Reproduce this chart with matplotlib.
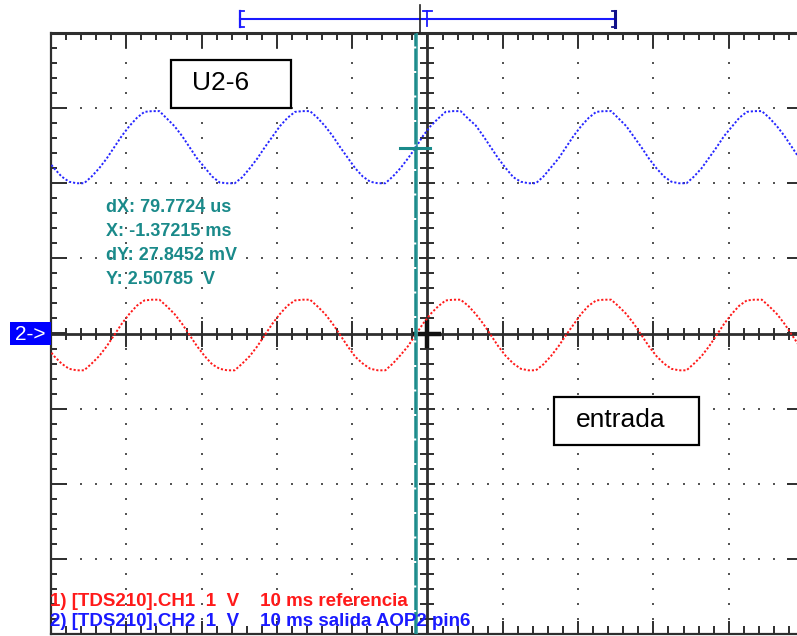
import numpy as np
import matplotlib
matplotlib.use('Agg')
import matplotlib.pyplot as plt
from matplotlib.patches import Rectangle
from matplotlib.lines import Line2D
from matplotlib.collections import LineCollection

W, H = 797, 636

# scope settings: 10 ms/div, 1 V/div, 10 x 8 divisions
t_first, t_step = -50.6, 1.0   # first sample instant and sample spacing (ms)

# CH2 "salida AOP2 pin6" readings (V), one per ms
ch2 = [2.33, 2.20, 2.09, 2.02, 2.00, 2.00, 2.09, 2.20, 2.33, 2.48, 2.63, 2.76, 2.87, 2.95, 2.96, 2.96, 2.86, 2.76, 2.63, 2.48,
       2.33, 2.21, 2.09, 2.01, 2.00, 2.00, 2.08, 2.20, 2.33, 2.48, 2.62, 2.76, 2.87, 2.95, 2.96, 2.96, 2.87, 2.76, 2.63, 2.48,
       2.34, 2.20, 2.09, 2.02, 2.00, 2.00, 2.09, 2.20, 2.33, 2.47, 2.63, 2.76, 2.86, 2.95, 2.96, 2.96, 2.86, 2.77, 2.63, 2.48,
       2.33, 2.20, 2.08, 2.02, 2.00, 2.00, 2.09, 2.21, 2.33, 2.48, 2.63, 2.76, 2.87, 2.95, 2.96, 2.96, 2.86, 2.76, 2.62, 2.48,
       2.33, 2.20, 2.09, 2.02, 2.00, 2.00, 2.09, 2.20, 2.34, 2.48, 2.63, 2.75, 2.87, 2.95, 2.96, 2.96, 2.87, 2.76, 2.63, 2.48,
       2.33, 2.20]

# CH1 "referencia" readings (V)
ch1 = [-0.17, -0.30, -0.40, -0.47, -0.49, -0.49, -0.40, -0.30, -0.17, -0.02, 0.13, 0.26, 0.37, 0.44, 0.45, 0.45, 0.36, 0.26, 0.13, -0.02,
       -0.17, -0.30, -0.41, -0.47, -0.49, -0.49, -0.40, -0.30, -0.17, -0.02, 0.13, 0.26, 0.37, 0.44, 0.45, 0.45, 0.36, 0.26, 0.13, -0.02,
       -0.17, -0.31, -0.40, -0.47, -0.49, -0.49, -0.40, -0.29, -0.17, -0.02, 0.13, 0.26, 0.36, 0.44, 0.45, 0.45, 0.37, 0.26, 0.13, -0.02,
       -0.17, -0.30, -0.40, -0.47, -0.49, -0.49, -0.41, -0.30, -0.17, -0.02, 0.12, 0.26, 0.37, 0.44, 0.45, 0.45, 0.36, 0.26, 0.13, -0.02,
       -0.17, -0.30, -0.40, -0.47, -0.49, -0.49, -0.40, -0.30, -0.17, -0.02, 0.13, 0.26, 0.37, 0.44, 0.45, 0.45, 0.36, 0.26, 0.13, -0.02,
       -0.17, -0.30]

t = t_first + t_step * np.arange(len(ch2))

cursor_t = -1.6      # vertical cursor (ms)
cursor_v = 2.47      # horizontal cursor mark (V)
readout = ['dX: 79.7724 us', 'X: -1.37215 ms', 'dY: 27.8452 mV', 'Y: 2.50785  V']
legend_1 = '1) [TDS210].CH1  1  V    10 ms referencia'
legend_2 = '2) [TDS210].CH2  1  V    10 ms salida AOP2 pin6'

BLUE = '#2626ff'
RED = '#ff1a1a'
TEAL = '#1a8a8a'
GRID = '#2e2e2e'


def fx(px):
    return px / W


def fy(py):
    return 1 - py / H


fig = plt.figure(figsize=(W / 100, H / 100), dpi=100)
left, right, top, bottom = 51, 804, 33, 634
ax = fig.add_axes([fx(left), fy(bottom), (right - left) / W, (bottom - top) / H])
ax.set_xlim(-50, 50)
ax.set_ylim(-4, 4)
ax.set_xticks([])
ax.set_yticks([])
for s in ax.spines.values():
    s.set_color(GRID)
    s.set_linewidth(1.6)
ax.spines['top'].set_linewidth(2.2)

# px -> data conversion
mx = 100 / (right - left)
my = 8 / (bottom - top)

# dotted graticule
dots_x, dots_y = [], []
for xv in range(-40, 50, 10):
    if xv == 0:
        continue
    yy = np.arange(-4, 4.001, 0.2)
    dots_x += [xv] * len(yy)
    dots_y += list(yy)
for yv in [-3, -2, -1, 1, 2, 3]:
    xx = np.arange(-50, 50.001, 2)
    dots_x += list(xx)
    dots_y += [yv] * len(xx)
ax.plot(dots_x, dots_y, 's', color='#555555', ms=1.5, mew=0, zorder=1)

segs = []
# frame ticks
for xv in np.arange(-48, 49, 2):
    major = abs(xv) % 10 == 0
    segs.append([(xv, 4), (xv, 4 - (15 if major else 7) * my)])
    segs.append([(xv, -4), (xv, -4 + (13 if major else 8) * my)])
for yv in np.arange(-3.8, 3.81, 0.2):
    major = abs(round(yv, 1)) % 1 == 0
    segs.append([(-50, yv), (-50 + (16 if major else 6) * mx, yv)])
    segs.append([(50, yv), (50 - (17 if major else 6) * mx, yv)])
# centre axes ticks
for xv in np.arange(-48, 49, 2):
    L = 13 if abs(xv) % 10 == 0 else 6
    segs.append([(xv, -L * my), (xv, L * my)])
for yv in np.arange(-3.8, 3.81, 0.2):
    L = 8 if abs(round(yv, 1)) % 1 == 0 else 7
    segs.append([(-L * mx, yv), (L * mx, yv)])
ax.add_collection(LineCollection(segs, colors=GRID, linewidths=1.4, zorder=2))
ax.axhline(0, color=GRID, lw=2.0, zorder=2)
ax.axvline(0, color=GRID, lw=2.0, zorder=2)
ax.plot([-12 * mx, 12 * mx], [0, 0], color='#111111', lw=3.2, zorder=2)
ax.plot([0, 0], [-12 * my, 12 * my], color='#111111', lw=3.2, zorder=2)

# traces
ax.plot(t, ch2, color=BLUE, lw=1.4, ls=(0, (1.1, 1.0)), zorder=4)
ax.plot(t, ch1, color=RED, lw=1.4, ls=(0, (1.1, 1.0)), zorder=4)

# cursors
ax.axvline(cursor_t + 1.5 * mx, color='#3a9e9e', lw=1.2, zorder=5)
ax.axvline(cursor_t, color=TEAL, lw=1.8, ls=(0, (9, 0.8)), zorder=5)
ax.plot([cursor_t - 15 * mx, cursor_t + 15 * mx], [cursor_v, cursor_v], color=TEAL, lw=2.2, zorder=5)

# cursor readout
for i, line in enumerate(readout):
    fig.text(fx(106), fy(208 + 23.7 * i), line, color=TEAL, fontsize=13, fontweight='bold',
             family='Liberation Sans', va='center', ha='left')

# channel legend
fig.text(fx(50), fy(602), legend_1, color=RED, fontsize=13.5, fontweight='bold',
         family='Liberation Sans', va='center', ha='left')
fig.text(fx(50), fy(621), legend_2, color='#1a1aff', fontsize=13.5, fontweight='bold',
         family='Liberation Sans', va='center', ha='left')

# labels in boxes
for (x0, y0, x1, y1, label, tx) in [(171, 60, 291, 108, 'U2-6', 192), (554, 397, 699, 445, 'entrada', 576)]:
    fig.add_artist(Rectangle((fx(x0), fy(y1)), (x1 - x0) / W, (y1 - y0) / H, transform=fig.transFigure,
                             facecolor='white', edgecolor='black', lw=1.6, zorder=6))
    fig.text(fx(tx), fy((y0 + y1) / 2 - 1), label, fontsize=19, family='Liberation Sans',
             va='center', ha='left', zorder=7)

# channel 2 ground marker
fig.add_artist(Rectangle((fx(10), fy(345)), 41 / W, 23 / H, transform=fig.transFigure,
                         facecolor='#0000ff', edgecolor='none', zorder=6))
fig.text(fx(30), fy(334), '2->', color='white', fontsize=15, family='Liberation Sans',
         va='center', ha='center', zorder=7)

# trigger / record bar above the screen
def fig_line(xs, ys, **kw):
    fig.add_artist(Line2D([fx(v) for v in xs], [fy(v) for v in ys], transform=fig.transFigure, **kw))

fig_line([240, 615], [19, 19], color='#1a1aff', lw=1.5)
fig_line([240, 240], [11, 27], color='#1a1aff', lw=1.6)
fig_line([240, 244], [11, 11], color='#1a1aff', lw=1.3)
fig_line([240, 244], [27, 27], color='#1a1aff', lw=1.3)
fig_line([615, 615], [11, 27], color='#10108a', lw=2.2)
fig_line([612, 615], [11, 11], color='#10108a', lw=1.3)
fig_line([612, 615], [27, 27], color='#10108a', lw=1.3)
fig_line([420, 420], [5, 33], color='#222222', lw=1.2)
fig_line([427, 427], [11, 26], color='#1a1aff', lw=1.3)
fig_line([423, 432], [11, 11], color='#1a1aff', lw=1.3)

fig.savefig('out.png', dpi=100)
